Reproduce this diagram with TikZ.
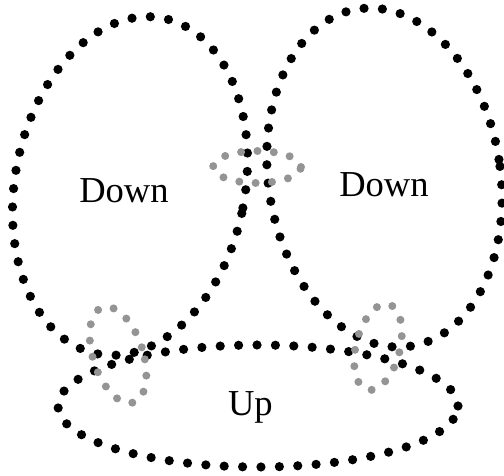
\documentclass[tikz,border=0pt]{standalone}
\usepackage{fontspec}
\setmainfont{Liberation Serif}
\usetikzlibrary{shapes.geometric}
\tikzstyle{blackring} = [ellipse, draw=black, line width=0.23cm, line cap=round, dash pattern=on 0pt off 0.46cm]
\tikzstyle{grayring} = [ellipse, draw=black!42, line width=0.2cm, line cap=round, dash pattern=on 0pt off 0.41cm]
\tikzstyle{setname} = [font=\fontsize{26}{30}\selectfont, inner sep=0pt]

\begin{document}
\begin{tikzpicture}
\useasboundingbox (0,0) rectangle (12.6,11.9);
\node (leftset) [blackring, minimum width=5.75cm, minimum height=8.55cm, rotate=-11] at (3.25,7.25) {};
\node (rightset) [blackring, minimum width=5.8cm, minimum height=8.53cm, rotate=9] at (9.61,7.46) {};
\node (bottomset) [blackring, minimum width=10cm, minimum height=3.05cm] at (6.45,1.75) {};
% gray rings at the crossings
\node (topcross) [grayring, minimum width=2.2cm, minimum height=0.8cm] at (6.425,7.725) {};
\node (leftcross) [grayring, minimum width=1.25cm, minimum height=2.5cm, rotate=18] at (2.95,3.025) {};
\node (rightcross) [grayring, minimum width=1.1cm, minimum height=2.2cm, rotate=-14] at (9.45,3.225) {};
\node (downleft) [setname] at (3.1,7.14) {Down};
\node (downright) [setname] at (9.6,7.275) {Down};
\node (up) [setname] at (6.26,1.71) {Up};
\end{tikzpicture}
\end{document}
